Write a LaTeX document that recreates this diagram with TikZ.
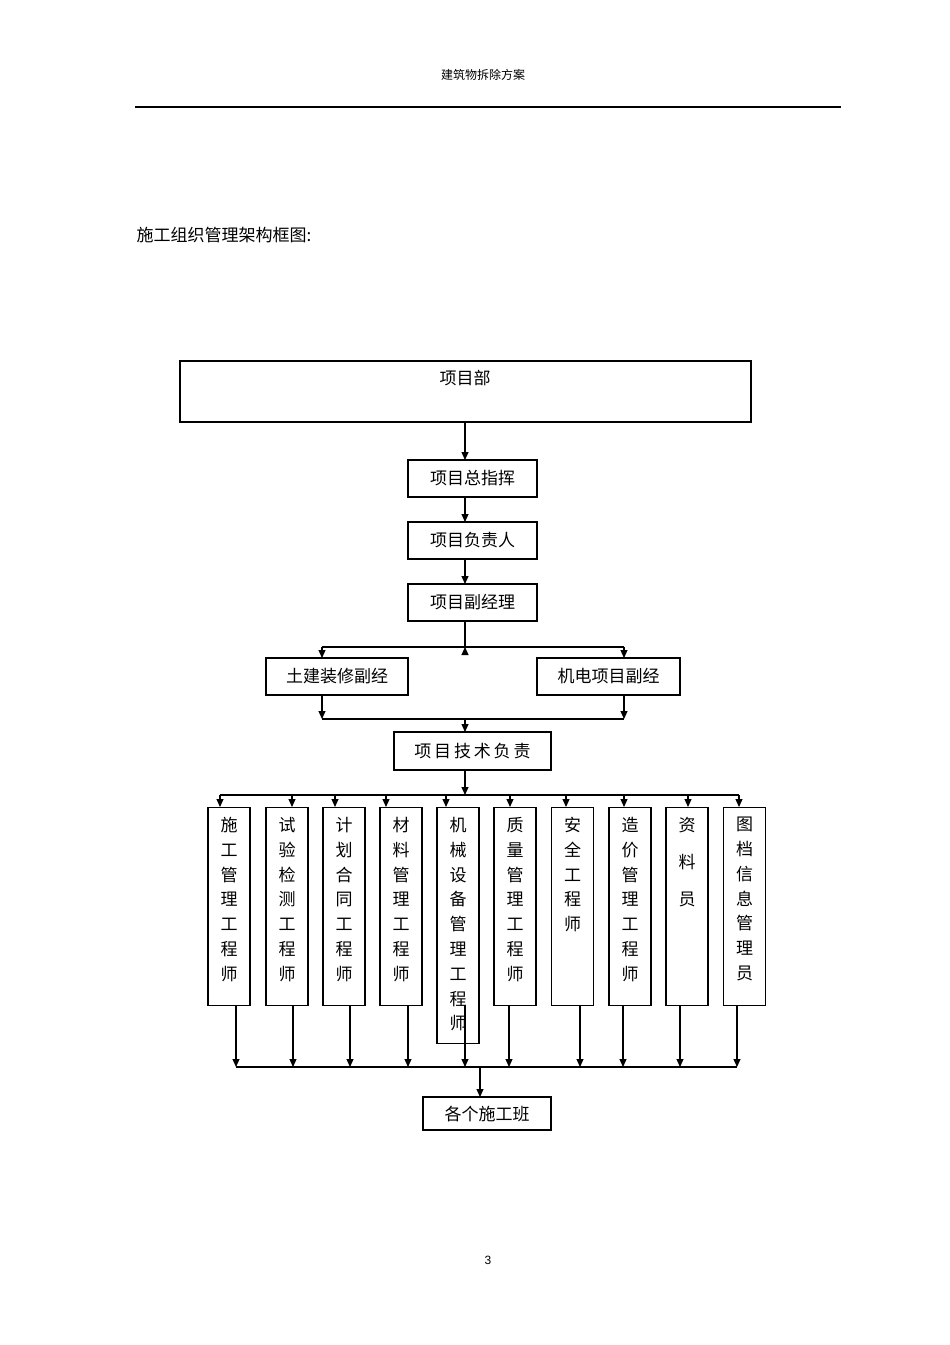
\documentclass[tikz,border=0pt]{standalone}
\usepackage{fontspec}
\setmainfont{Liberation Sans}
\newfontfamily\cjk{Noto Sans CJK SC}
\usetikzlibrary{arrows.meta}
\begin{document}
\begin{tikzpicture}[x=1pt,y=-1pt,
  box/.style={draw,line width=1.1pt,inner sep=0pt,font=\cjk\fontsize{17}{20}\selectfont},
  col/.style={draw,line width=1.1pt,inner sep=0pt,minimum width=42pt,anchor=north,align=center,font=\cjk\fontsize{17}{24.8}\selectfont},
  arr/.style={line width=1.1pt,-{Triangle[length=8pt,width=7pt]}},
  ln/.style={line width=1.1pt}]
\useasboundingbox (0,0) rectangle (950,1345);
\node[font=\cjk\fontsize{12}{14}\selectfont] (hdr) at (483,75) {建筑物拆除方案};
\draw[line width=1.6pt] (135,107) coordinate (l1) -- (841,107) coordinate (l2);
\node[font=\cjk\fontsize{17}{20}\selectfont,anchor=west] (ttl) at (133,235) {施工组织管理架构框图:};
\node[font=\fontsize{12}{14}\selectfont] (pg) at (488,1260) {3};

\node[box,minimum width=571pt,minimum height=61pt] (bu) at (465.5,391.5) {};
\node[font=\cjk\fontsize{17}{20}\selectfont] (bul) at (465,378) {项目部};
\node[box,minimum width=129pt,minimum height=37pt] (zh) at (472.5,478.5) {项目总指挥};
\node[box,minimum width=129pt,minimum height=37pt] (fz) at (472.5,540.5) {项目负责人};
\node[box,minimum width=129pt,minimum height=37pt] (fj) at (472.5,602.5) {项目副经理};
\node[box,minimum width=142pt,minimum height=37pt] (tj) at (337,676.5) {土建装修副经};
\node[box,minimum width=143pt,minimum height=37pt] (jd) at (608.5,676.5) {机电项目副经};
\node[box,minimum width=157pt,minimum height=38pt] (js) at (472.5,751) {项\,目\,技\,术\,负\,责};

\draw[arr] (465,422) -- (465,460);
\draw[arr] (465,497) -- (465,522);
\draw[arr] (465,559) -- (465,584);
\draw[ln] (465,621) -- (465,647) coordinate (b1);
\draw[ln] (322,647) coordinate (b1l) -- (624,647) coordinate (b1r);
\draw[arr] (b1) -- (465,647);
\draw[arr] (b1l) -- (322,658);
\draw[arr] (b1r) -- (624,658);
\draw[ln] (322,719) coordinate (b2l) -- (624,719) coordinate (b2r);
\draw[arr] (322,695) -- (b2l);
\draw[arr] (624,695) -- (b2r);
\draw[arr] (465,719) -- (465,732);
\draw[arr] (465,770) -- (465,795) coordinate (b3);
\draw[ln] (220,795) -- (739,795);

\foreach \n/\cx/\ax/\bx/\h/\t in {
 c1/229/220/236/198/施\\工\\管\\理\\工\\程\\师,
 c2/287/292/293/198/试\\验\\检\\测\\工\\程\\师,
 c3/344/335/350/198/计\\划\\合\\同\\工\\程\\师,
 c4/401/386/408/198/材\\料\\管\\理\\工\\程\\师,
 c5/458/446/465/236/机\\械\\设\\备\\管\\理\\工\\程\\师,
 c6/515/510/509/198/质\\量\\管\\理\\工\\程\\师,
 c7/572.5/566/580/198/安\\全\\工\\程\\师,
 c8/630/624/623/198/造\\价\\管\\理\\工\\程\\师,
 c9/687/688/680/198/资\\[12pt]料\\[12pt]员,
 c10/744.5/739/737/198/图\\档\\信\\息\\管\\理\\员}{
  \node[col,minimum height=\h pt] (\n) at (\cx,807) {};
  \node[anchor=north,align=center,inner sep=0pt,font=\cjk\fontsize{17}{24.8}\selectfont] (\n t) at (\cx,817) {\t};
  \draw[arr] (\ax,795) -- (\ax,807);
  \draw[arr] (\bx,1005) -- (\bx,1067);
}
\draw[ln] (236,1067) -- (737,1067);
\node[box,minimum width=128pt,minimum height=33pt] (gg) at (487,1113.5) {各个施工班};
\draw[arr] (480,1067) -- (480,1097);
\end{tikzpicture}
\end{document}
